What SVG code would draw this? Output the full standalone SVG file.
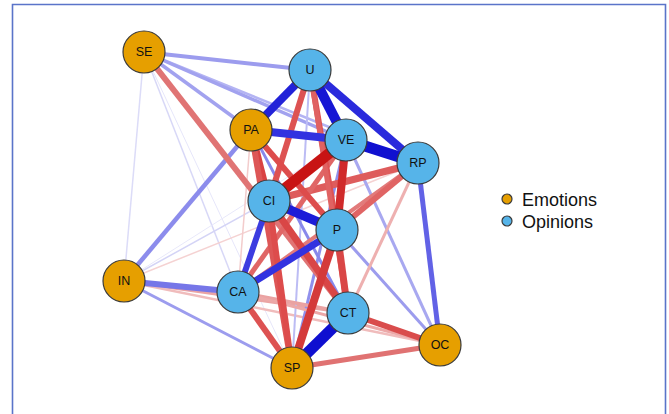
<svg xmlns="http://www.w3.org/2000/svg" width="669" height="414" viewBox="0 0 669 414">
<style>
.e{fill:#E69F00;stroke:#3a3a3a;stroke-width:1.2}
.o{fill:#56B4E9;stroke:#3a3a3a;stroke-width:1.2}
.lb{font-family:"Liberation Sans",Arial,sans-serif;font-size:12.5px;fill:#111;text-anchor:middle;dominant-baseline:central}
.lg{font-family:"Liberation Sans",Arial,sans-serif;font-size:18px;fill:#111}
#edges line{stroke-linecap:butt;fill:none}
</style>
<rect width="669" height="414" fill="#fff"/>
<path d="M12.5,414 V4.5 H665.5 V414" fill="none" stroke="#5a74c9" stroke-width="1.6"/>
<g id="edges">
<!-- faint -->
<line x1="144" y1="52" x2="124" y2="281" stroke="#dcdcf8" stroke-width="1.5"/>
<line x1="144" y1="52" x2="238" y2="292" stroke="#d8d8f7" stroke-width="1.5"/>
<line x1="144" y1="52" x2="292" y2="368" stroke="#e6e6fa" stroke-width="1"/>
<line x1="124" y1="281" x2="269" y2="201" stroke="#d4d4f6" stroke-width="1.5"/>
<line x1="124" y1="281" x2="418" y2="163" stroke="#f5d2d2" stroke-width="1.5"/>
<line x1="124" y1="281" x2="346" y2="140" stroke="#e8e8fa" stroke-width="1"/>
<line x1="251" y1="130" x2="238" y2="292" stroke="#f3cccc" stroke-width="1.5"/>
<line x1="251" y1="130" x2="440" y2="345" stroke="#f6dada" stroke-width="1"/>
<!-- light -->
<line x1="144" y1="52" x2="418" y2="163" stroke="#b4b4f3" stroke-width="2.5"/>
<line x1="144" y1="52" x2="346" y2="140" stroke="#a2a2ef" stroke-width="3.5"/>
<line x1="144" y1="52" x2="251" y2="130" stroke="#a2a2ef" stroke-width="3.5"/>
<line x1="144" y1="52" x2="310" y2="70" stroke="#9c9cee" stroke-width="4"/>
<line x1="124" y1="281" x2="292" y2="368" stroke="#9c9cee" stroke-width="3"/>
<line x1="124" y1="281" x2="348" y2="313" stroke="#eaa4a4" stroke-width="3"/>
<line x1="124" y1="281" x2="440" y2="345" stroke="#f0bcbc" stroke-width="2.5"/>
<line x1="346" y1="140" x2="440" y2="345" stroke="#a8a8f0" stroke-width="3"/>
<line x1="337" y1="230" x2="440" y2="345" stroke="#9c9cee" stroke-width="3"/>
<line x1="418" y1="163" x2="348" y2="313" stroke="#eeb0b0" stroke-width="3"/>
<line x1="310" y1="70" x2="292" y2="368" stroke="#bcbcf4" stroke-width="2"/>
<line x1="346" y1="140" x2="292" y2="368" stroke="#9090ec" stroke-width="3"/>
<line x1="251" y1="130" x2="348" y2="313" stroke="#8888eb" stroke-width="3"/>
<line x1="238" y1="292" x2="348" y2="313" stroke="#eaa2a2" stroke-width="3.5"/>
<line x1="238" y1="292" x2="440" y2="345" stroke="#eca8a8" stroke-width="3"/>
<line x1="418" y1="163" x2="238" y2="292" stroke="#e27a7a" stroke-width="4"/>
<line x1="124" y1="281" x2="251" y2="130" stroke="#8c8cec" stroke-width="4.5"/>
<line x1="124" y1="281" x2="238" y2="292" stroke="#7676e8" stroke-width="6"/>
<!-- medium -->
<line x1="144" y1="52" x2="348" y2="313" stroke="#e07474" stroke-width="6"/>
<line x1="418" y1="163" x2="269" y2="201" stroke="#de5c5c" stroke-width="7"/>
<line x1="418" y1="163" x2="337" y2="230" stroke="#e06464" stroke-width="6"/>
<line x1="346" y1="140" x2="238" y2="292" stroke="#e06666" stroke-width="5"/>
<line x1="238" y1="292" x2="292" y2="368" stroke="#dd5252" stroke-width="6"/>
<line x1="292" y1="368" x2="440" y2="345" stroke="#e07272" stroke-width="5"/>
<line x1="348" y1="313" x2="440" y2="345" stroke="#d94c4c" stroke-width="6"/>
<line x1="310" y1="70" x2="269" y2="201" stroke="#dd5252" stroke-width="6"/>
<line x1="310" y1="70" x2="337" y2="230" stroke="#dd5252" stroke-width="6"/>
<line x1="310" y1="70" x2="348" y2="313" stroke="#e06262" stroke-width="5"/>
<line x1="251" y1="130" x2="269" y2="201" stroke="#d94242" stroke-width="7"/>
<line x1="251" y1="130" x2="337" y2="230" stroke="#dd4c4c" stroke-width="6"/>
<line x1="251" y1="130" x2="292" y2="368" stroke="#dd5656" stroke-width="6"/>
<line x1="269" y1="201" x2="292" y2="368" stroke="#dd4c4c" stroke-width="6"/>
<line x1="269" y1="201" x2="348" y2="313" stroke="#d94646" stroke-width="7"/>
<line x1="337" y1="230" x2="348" y2="313" stroke="#d94646" stroke-width="7"/>
<line x1="337" y1="230" x2="292" y2="368" stroke="#d43a3a" stroke-width="8"/>
<line x1="346" y1="140" x2="337" y2="230" stroke="#d02a2a" stroke-width="8"/>
<line x1="346" y1="140" x2="269" y2="201" stroke="#c81414" stroke-width="11"/>
<!-- strong blue -->
<line x1="418" y1="163" x2="440" y2="345" stroke="#6262e6" stroke-width="5"/>
<line x1="238" y1="292" x2="269" y2="201" stroke="#3c3ce0" stroke-width="6"/>
<line x1="238" y1="292" x2="337" y2="230" stroke="#3232e0" stroke-width="7"/>
<line x1="269" y1="201" x2="337" y2="230" stroke="#1c1cd8" stroke-width="9"/>
<line x1="251" y1="130" x2="346" y2="140" stroke="#3232e0" stroke-width="8"/>
<line x1="310" y1="70" x2="251" y2="130" stroke="#2222d8" stroke-width="8"/>
<line x1="310" y1="70" x2="418" y2="163" stroke="#2a2adc" stroke-width="8"/>
<line x1="310" y1="70" x2="346" y2="140" stroke="#1616d4" stroke-width="10"/>
<line x1="346" y1="140" x2="418" y2="163" stroke="#1010d0" stroke-width="11"/>
<line x1="348" y1="313" x2="292" y2="368" stroke="#0f0fd0" stroke-width="11"/>
</g>
<g id="node-SE"><circle class="e" cx="144" cy="52" r="21"/><text class="lb" x="144" y="52">SE</text></g>
<g id="node-U"><circle class="o" cx="310" cy="70" r="21"/><text class="lb" x="310" y="70">U</text></g>
<g id="node-PA"><circle class="e" cx="251" cy="130" r="21"/><text class="lb" x="251" y="130">PA</text></g>
<g id="node-VE"><circle class="o" cx="346" cy="140" r="21"/><text class="lb" x="346" y="140">VE</text></g>
<g id="node-RP"><circle class="o" cx="418" cy="163" r="21"/><text class="lb" x="418" y="163">RP</text></g>
<g id="node-CI"><circle class="o" cx="269" cy="201" r="21"/><text class="lb" x="269" y="201">CI</text></g>
<g id="node-P"><circle class="o" cx="337" cy="230" r="21"/><text class="lb" x="337" y="230">P</text></g>
<g id="node-IN"><circle class="e" cx="124" cy="281" r="21"/><text class="lb" x="124" y="281">IN</text></g>
<g id="node-CA"><circle class="o" cx="238" cy="292" r="21"/><text class="lb" x="238" y="292">CA</text></g>
<g id="node-CT"><circle class="o" cx="348" cy="313" r="21"/><text class="lb" x="348" y="313">CT</text></g>
<g id="node-OC"><circle class="e" cx="440" cy="345" r="21"/><text class="lb" x="440" y="345">OC</text></g>
<g id="node-SP"><circle class="e" cx="292" cy="368" r="21"/><text class="lb" x="292" y="368">SP</text></g>
<g id="legend">
<circle class="e" cx="507" cy="199" r="5" stroke-width="1"/>
<text class="lg" x="522" y="205.5">Emotions</text>
<circle class="o" cx="507" cy="221" r="5" stroke-width="1"/>
<text class="lg" x="522" y="227.5">Opinions</text>
</g>
</svg>
